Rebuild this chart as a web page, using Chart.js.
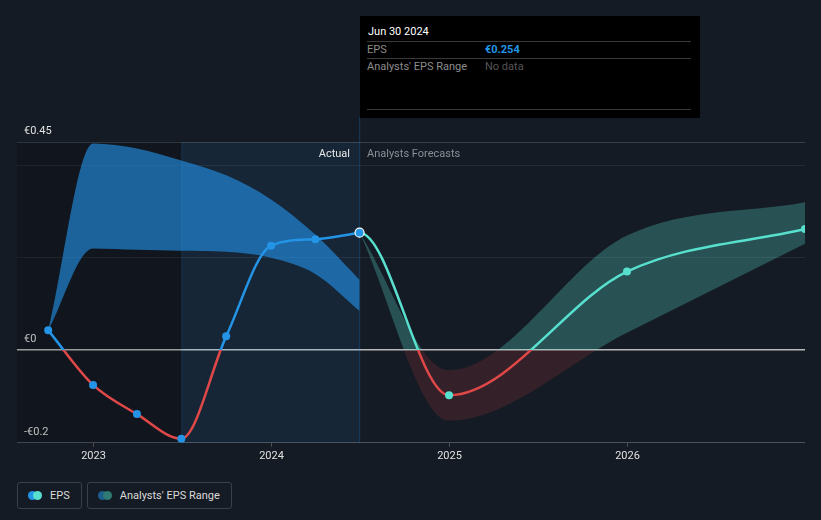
<!DOCTYPE html>
<html>
<head>
<meta charset="utf-8">
<script src="https://cdn.jsdelivr.net/npm/chart.js@4.4.1/dist/chart.umd.min.js"></script>
<style>
  html, body { margin: 0; padding: 0; background: #151b24; }
  body { width: 821px; height: 520px; position: relative; overflow: hidden; font-family: Roboto, "Noto Sans", sans-serif; }
  #chart { position: absolute; left: 0; top: 0; }
  .tip { position: absolute; left: 360px; top: 16px; width: 340px; height: 102px; background: #000; font-size: 11px; }
  .tip div { position: absolute; line-height: 13px; white-space: nowrap; }
  .tip .rule { left: 7px; width: 324px; height: 1px; background: #3a3a3a; }
  .tip .title { left: 8px; top: 9px; color: #fff; }
  .tip .lbl { left: 7px; color: #8c8c8c; }
  .tip .val { left: 125px; }
  .zone { position: absolute; top: 147px; font-size: 11px; line-height: 13px; white-space: nowrap; }
  .legend { position: absolute; top: 482px; left: 17px; display: flex; gap: 5px; }
  .legend .item { height: 25px; border: 1px solid #3a4049; border-radius: 3px; display: flex; align-items: center; padding: 0 11px 0 10px; color: #d9d9d9; font-size: 11px; }
  .legend .dots { display: inline-flex; margin-right: 8px; }
  .legend .dots i { width: 9px; height: 9px; border-radius: 50%; display: block; }
  .legend .dots i + i { margin-left: -4px; }
</style>
</head>
<body>
<canvas id="chart" width="821" height="472"></canvas>

<div class="zone" style="right:471px;color:#e6e6e6;">Actual</div>
<div class="zone" style="left:367px;color:#8b8f96;">Analysts Forecasts</div>

<div class="tip">
  <div class="title" id="tipDate"></div>
  <div class="rule" style="top:25px;"></div>
  <div class="lbl" style="top:27px;">EPS</div>
  <div class="val" id="tipVal" style="top:27px;color:#2394e6;font-weight:bold;"></div>
  <div class="rule" style="top:42px;"></div>
  <div class="lbl" style="top:44px;">Analysts' EPS Range</div>
  <div class="val" style="top:44px;color:#555;">No data</div>
  <div class="rule" style="top:93px;"></div>
</div>

<div class="legend">
  <div class="item"><span class="dots"><i style="background:#2394e6"></i><i style="background:#58e0cf"></i></span>EPS</div>
  <div class="item"><span class="dots"><i style="background:#1d5f8c"></i><i style="background:#2f7a73"></i></span>Analysts' EPS Range</div>
</div>

<script>
// Actual EPS, quarterly
const epsDates = ["2022-09-30", "2022-12-31", "2023-03-31", "2023-06-30", "2023-09-30", "2023-12-31", "2024-03-31", "2024-06-30"];
const epsValues = [0.043, -0.075, -0.138, -0.191, 0.030, 0.226, 0.240, 0.254];

// Analysts' range for past periods
const pastRangeHigh = [0.043, 0.447, 0.436, 0.410, 0.378, 0.326, 0.250, 0.152];
const pastRangeLow = [0.043, 0.220, 0.217, 0.215, 0.213, 0.200, 0.165, 0.085];

// Forecasts
const forecastDates = ["2024-12-31", "2025-12-31", "2026-12-31"];
const forecastValues = [-0.097, 0.170, 0.262];
const forecastHigh = [-0.043, 0.248, 0.320];
const forecastLow = [-0.152, 0.038, 0.230];

// Axes
const xStart = "2022-07-28";
const xEnd = "2026-12-31";
const actualWindowStart = "2023-06-30";
const xTickYears = [2023, 2024, 2025, 2026];
const yTickValues = [-0.2, 0, 0.2, 0.4, 0.45];
const yLabelValues = [-0.2, 0, 0.45];

const BLUE = "#2394e6";
const TEAL = "#58e0cf";
const RED = "#e04848";

function toYear(s) {
  const d = new Date(s + "T00:00:00Z");
  const y = d.getUTCFullYear();
  const start = Date.UTC(y, 0, 1);
  const end = Date.UTC(y + 1, 0, 1);
  return y + (d - start) / (end - start);
}

function pts(dates, values) {
  return dates.map((d, i) => ({ x: toYear(d), y: values[i] }));
}

// colour above / below zero
function signGradient(ctx, above, below) {
  const chart = ctx.chart;
  const area = chart.chartArea;
  if (!area) return above;
  const y0 = chart.scales.y.getPixelForValue(0);
  const f = Math.min(1, Math.max(0, (y0 - area.top) / (area.bottom - area.top)));
  const g = chart.ctx.createLinearGradient(0, area.top, 0, area.bottom);
  g.addColorStop(0, above);
  g.addColorStop(f, above);
  g.addColorStop(f, below);
  g.addColorStop(1, below);
  return g;
}

const n = epsDates.length;
const lastDate = epsDates[n - 1];
const lastValue = epsValues[n - 1];

// forecast line continues from the last actual points (first segment hidden)
const fcLineDates = [epsDates[n - 2], lastDate].concat(forecastDates);
const fcLineValues = [epsValues[n - 2], lastValue].concat(forecastValues);
const fcBandDates = [lastDate].concat(forecastDates);

document.getElementById("tipDate").textContent =
  new Date(lastDate + "T00:00:00Z").toLocaleDateString("en-US", { month: "short", day: "numeric", year: "numeric", timeZone: "UTC" }).replace(",", "");
document.getElementById("tipVal").textContent = "€" + lastValue.toFixed(3);

const zones = {
  id: "zones",
  beforeDatasetsDraw(chart) {
    const { ctx, chartArea: a, scales } = chart;
    const xs = scales.x.getPixelForValue(toYear(actualWindowStart));
    const xe = scales.x.getPixelForValue(toYear(lastDate));
    ctx.save();
    ctx.fillStyle = "rgba(0,0,0,0.16)";
    ctx.fillRect(a.left, a.top, xs - a.left, a.bottom - a.top);
    ctx.fillStyle = "rgba(35,150,240,0.09)";
    ctx.fillRect(xs, a.top, xe - xs, a.bottom - a.top);
    ctx.fillStyle = "rgba(35,150,240,0.12)";
    ctx.fillRect(xs, a.top, 1, a.bottom - a.top);
    ctx.fillStyle = "rgba(35,150,240,0.22)";
    ctx.fillRect(xe - 0.5, 117, 1.2, a.bottom - 117);
    ctx.restore();
  }
};

new Chart(document.getElementById("chart"), {
  type: "line",
  data: {
    datasets: [
      {
        label: "EPS",
        data: pts(epsDates, epsValues),
        borderColor: (c) => signGradient(c, BLUE, RED),
        borderWidth: 2.5,
        cubicInterpolationMode: "monotone",
        pointRadius: epsValues.map((v, i) => (i === n - 1 ? 4.5 : 4)),
        pointBackgroundColor: BLUE,
        pointBorderColor: epsValues.map((v, i) => (i === n - 1 ? "#ffffff" : BLUE)),
        pointBorderWidth: epsValues.map((v, i) => (i === n - 1 ? 1.2 : 0)),
        fill: false,
        order: 0
      },
      {
        label: "EPS forecast",
        data: pts(fcLineDates, fcLineValues),
        borderColor: (c) => signGradient(c, TEAL, RED),
        segment: { borderColor: (c) => (c.p0DataIndex === 0 ? "rgba(0,0,0,0)" : undefined) },
        borderWidth: 2.5,
        cubicInterpolationMode: "monotone",
        pointRadius: fcLineValues.map((v, i) => (i < 2 ? 0 : 4)),
        pointBackgroundColor: TEAL,
        pointBorderWidth: 0,
        fill: false,
        order: 1
      },
      {
        label: "Range high",
        data: pts(epsDates, pastRangeHigh),
        borderWidth: 0,
        pointRadius: 0,
        cubicInterpolationMode: "monotone",
        backgroundColor: "rgba(35,150,240,0.6)",
        fill: "+1",
        order: 3
      },
      {
        label: "Range low",
        data: pts(epsDates, pastRangeLow),
        borderWidth: 0,
        pointRadius: 0,
        cubicInterpolationMode: "monotone",
        fill: false,
        order: 3
      },
      {
        label: "Forecast high",
        data: pts(fcBandDates, [lastValue].concat(forecastHigh)),
        borderWidth: 0,
        pointRadius: 0,
        cubicInterpolationMode: "monotone",
        backgroundColor: (c) => signGradient(c, "rgba(88,224,208,0.28)", "rgba(232,69,69,0.15)"),
        fill: "+1",
        order: 3
      },
      {
        label: "Forecast low",
        data: pts(fcBandDates, [lastValue].concat(forecastLow)),
        borderWidth: 0,
        pointRadius: 0,
        cubicInterpolationMode: "monotone",
        fill: false,
        order: 3
      }
    ]
  },
  options: {
    responsive: false,
    animation: false,
    events: [],
    layout: { padding: { left: 3, right: 16, top: 142, bottom: 6 } },
    plugins: { legend: { display: false }, tooltip: { enabled: false } },
    scales: {
      x: {
        type: "linear",
        min: toYear(xStart),
        max: toYear(xEnd),
        afterBuildTicks: (axis) => { axis.ticks = xTickYears.map((v) => ({ value: v })); },
        ticks: { color: "#e0e0e0", font: { family: "Roboto", size: 11 }, padding: 3, maxRotation: 0, callback: (v) => String(v) },
        grid: { drawOnChartArea: false, drawTicks: true, tickLength: 4, color: "#4a4f57" },
        border: { display: false }
      },
      y: {
        min: -0.2,
        max: 0.45,
        z: 1,
        afterBuildTicks: (axis) => { axis.ticks = yTickValues.map((v) => ({ value: v })); },
        ticks: {
          mirror: true,
          padding: 7,
          labelOffset: -11,
          color: "#e0e0e0",
          font: { family: "Roboto", size: 11 },
          callback: (v) => (yLabelValues.includes(v) ? (v < 0 ? "-€" + Math.abs(v) : "€" + v) : "")
        },
        grid: {
          drawTicks: false,
          color: (c) => {
            const v = c.tick.value;
            if (v === 0) return "rgba(230,230,230,0.78)";
            if (v === 0.45) return "rgba(255,255,255,0.16)";
            if (v === -0.2) return "rgba(255,255,255,0.24)";
            return "rgba(255,255,255,0.07)";
          },
          lineWidth: (c) => (c.tick.value === 0 ? 1.5 : 1)
        },
        border: { display: false }
      }
    }
  },
  plugins: [zones]
});
</script>
</body>
</html>
